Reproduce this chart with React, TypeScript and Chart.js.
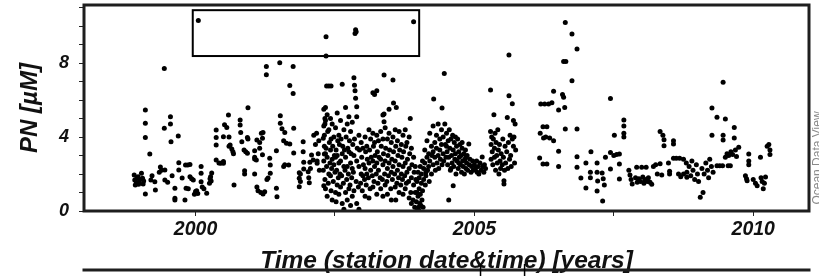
import React, { useEffect, useRef } from 'react';
import { Chart, registerables } from 'chart.js';

Chart.register(...registerables);

// ---- Data (decimal year, PN µM) ----
const p1999: number[][] = [
  [1998.90,1.95],[1998.91,1.68],[1998.92,1.41],[1998.94,1.55],[1998.95,1.8],[1998.97,1.85],[1998.98,1.45],
  [1998.99,1.53],[1999.0,1.7],[1999.03,2.04],[1999.05,1.77],[1999.06,1.46],[1999.07,1.62],[1999.1,0.92],
  [1999.1,5.46],[1999.1,4.74],[1999.1,3.98],[1999.18,3.08],[1999.2,1.68],[1999.22,1.9],[1999.27,1.58],
  [1999.28,1.14],[1999.35,2.1],[1999.37,2.38],[1999.39,2.2],[1999.44,7.71],[1999.44,4.47],[1999.45,2.22],
  [1999.45,1.68],[1999.55,5.1],[1999.55,4.7],[1999.56,3.75],[1999.69,4.05],[1999.63,1.23],[1999.63,0.69],
  [1999.63,0.59],[1999.7,2.61],[1999.7,2.22],[1999.82,2.49],[1999.86,2.49],[1999.9,2.52],[1999.81,0.59],
  [1999.83,1.23],[1999.9,1.85],[1999.93,1.75],[1999.96,1.68],[1999.98,0.9],[2000.0,1.05],[2000.02,1.1],
  [2000.04,0.95],[2000.05,10.3],[1999.58,1.9],[1999.5,1.55],[1999.76,1.78],[1999.87,1.2],
];
const p2000: number[][] = [
  [2000.1,2.4],[2000.1,2.04],[2000.1,1.58],[2000.12,1.3],[2000.2,0.96],[2000.15,1.2],[2000.25,1.5],
  [2000.26,1.75],[2000.27,1.85],[2000.29,2.05],[2000.28,1.62],[2000.37,4.38],[2000.37,3.98],[2000.37,3.57],
  [2000.37,2.76],[2000.42,2.6],[2000.45,2.58],[2000.5,2.58],[2000.5,2.68],[2000.5,4.02],[2000.52,4.67],
  [2000.56,4.52],[2000.59,5.19],[2000.6,4.0],[2000.6,3.5],[2000.62,3.57],[2000.65,3.35],[2000.67,3.2],
  [2000.68,3.1],[2000.69,1.41],[2000.8,4.92],[2000.8,4.65],[2000.81,4.25],[2000.83,3.75],[2000.88,2.18],
  [2000.88,2.0],[2000.87,3.3],[2000.9,3.2],[2000.93,3.12],[2000.94,5.58],[2000.93,3.98],[2000.94,3.9],
];
const p2001: number[][] = [
  [2001.06,2.9],[2001.06,3.26],[2001.06,2.81],[2001.06,2.0],[2001.09,2.76],[2001.1,3.84],[2001.1,1.3],
  [2001.12,1.1],[2001.15,3.7],[2001.15,3.39],[2001.17,1.0],[2001.18,4.2],[2001.2,3.93],[2001.2,3.04],
  [2001.21,4.25],[2001.21,0.92],[2001.24,1.04],[2001.27,7.82],[2001.27,7.37],[2001.28,1.7],[2001.3,1.78],
  [2001.33,2.85],[2001.34,2.49],[2001.34,2.04],[2001.45,1.23],[2001.46,0.77],[2001.45,3.26],[2001.51,8.02],
  [2001.52,5.15],[2001.52,4.75],[2001.55,4.45],[2001.6,4.25],[2001.58,3.8],[2001.58,2.4],[2001.6,2.5],
  [2001.63,3.66],[2001.67,2.49],[2001.69,6.79],[2001.69,3.62],[2001.75,7.82],[2001.75,6.36],[2001.76,4.47],
  [2001.76,3.13],[2001.86,2.07],[2001.86,1.77],[2001.86,1.31],[2001.88,2.0],[2001.88,1.6],[2001.93,3.75],
  [2001.93,3.2],[2001.94,2.63],[2001.94,2.27],
];
const p2002a: number[][] = [
  [2002.02,2.12],[2002.03,1.8],[2002.04,1.53],[2002.05,2.63],[2002.06,2.3],[2002.08,3.03],[2002.11,2.76],
  [2002.12,4.1],[2002.15,3.6],[2002.17,4.2],[2002.18,2.7],[2002.18,2.58],[2002.2,3.1],[2002.21,3.8],
  [2002.22,2.2],[2002.29,3.93],[2002.3,1.37],[2002.31,3.08],[2002.31,3.5],[2002.32,4.7],[2002.32,5.0],
  [2002.33,5.6],[2002.34,8.38],[2002.34,9.42],[2002.35,6.76],[2002.39,6.76],[2002.43,6.76],
];
const p2002b: number[][] = [
  [2002.30,5.5],[2002.30,4.6],[2002.31,4.1],[2002.30,2.7],[2002.29,2.2],
  [2002.33,4.9],[2002.34,3.4],[2002.33,3.1],[2002.32,1.7],[2002.33,1.2],
  [2002.36,5.2],[2002.37,4.3],[2002.36,2.9],[2002.35,2.4],[2002.36,0.8],
  [2002.39,4.4],[2002.40,3.7],[2002.39,2.0],[2002.38,1.5],
  [2002.42,5.0],[2002.43,3.9],[2002.42,3.3],[2002.41,2.6],[2002.42,1.9],[2002.43,1.1],
  [2002.45,4.7],[2002.46,3.5],[2002.45,2.8],[2002.44,2.3],[2002.45,0.6],
  [2002.48,4.0],[2002.49,3.0],[2002.48,2.5],[2002.47,1.6],
  [2002.51,4.5],[2002.52,3.3],[2002.51,2.9],[2002.50,2.1],[2002.51,1.0],[2002.52,0.5],
  [2002.54,5.3],[2002.55,3.8],[2002.54,3.0],[2002.53,2.2],[2002.54,1.4],
  [2002.57,4.1],[2002.58,3.6],[2002.57,2.6],[2002.56,1.8],[2002.57,0.9],
  [2002.60,4.9],[2002.61,3.9],[2002.60,2.7],[2002.59,2.0],[2002.60,1.3],
  [2002.63,6.86],[2002.64,3.5],[2002.63,3.1],[2002.62,1.9],[2002.63,0.4],
  [2002.66,4.4],[2002.67,3.3],[2002.66,2.4],[2002.65,1.5],[2002.66,0.1],
  [2002.69,5.6],[2002.70,4.0],[2002.69,2.9],[2002.68,2.2],[2002.69,1.0],
  [2002.72,4.7],[2002.73,3.4],[2002.72,2.4],[2002.71,1.7],[2002.72,0.6],
  [2002.75,5.1],[2002.76,3.8],[2002.75,3.2],[2002.74,2.0],[2002.75,1.2],
  [2002.78,4.3],[2002.79,3.1],[2002.78,2.6],[2002.77,1.4],[2002.78,0.3],
  [2002.81,4.8],[2002.82,3.6],[2002.81,2.3],[2002.80,1.8],[2002.81,0.8],
  [2002.84,7.2],[2002.85,3.9],[2002.84,3.0],[2002.83,2.1],[2002.84,1.1],
  [2002.85,6.8],[2002.86,6.5],[2002.86,9.6],[2002.87,6.1],[2002.87,9.8],[2002.88,9.7],
  [2002.89,5.64],[2002.89,5.1],[2002.90,3.4],[2002.89,2.7],[2002.88,1.6],[2002.89,0.4],
  [2002.93,4.1],[2002.94,3.3],[2002.93,2.4],[2002.92,1.3],[2002.93,0.1],
  [2002.97,3.7],[2002.98,2.9],[2002.97,2.0],[2002.96,1.5],
];
const p2003: number[][] = [
  [2003.00,3.4],[2003.01,2.5],[2003.00,1.9],[2002.99,1.1],
  [2003.04,4.0],[2003.05,3.2],[2003.04,2.3],[2003.03,1.7],[2003.04,0.8],
  [2003.07,3.5],[2003.08,2.8],[2003.07,2.0],[2003.06,1.4],
  [2003.11,4.4],[2003.12,3.3],[2003.11,2.6],[2003.10,1.8],[2003.11,0.7],
  [2003.14,3.9],[2003.15,2.9],[2003.14,2.2],[2003.13,1.2],
  [2003.18,6.4],[2003.18,4.2],[2003.19,3.5],[2003.18,2.7],[2003.17,1.9],[2003.18,1.3],
  [2003.21,6.3],[2003.21,3.7],[2003.22,3.0],[2003.21,2.4],[2003.20,1.6],
  [2003.25,6.5],[2003.25,4.1],[2003.26,3.2],[2003.25,2.6],[2003.24,2.0],[2003.25,0.9],
  [2003.28,3.8],[2003.29,2.9],[2003.28,2.2],[2003.27,1.5],
  [2003.32,4.3],[2003.33,3.5],[2003.32,2.8],[2003.31,1.8],[2003.32,1.2],
  [2003.36,5.19],[2003.36,3.9],[2003.37,3.1],[2003.36,2.5],[2003.35,1.7],[2003.36,0.8],
  [2003.38,7.35],[2003.38,5.24],[2003.38,4.83],
  [2003.40,4.5],[2003.41,3.4],[2003.40,2.7],[2003.39,2.0],[2003.40,1.4],
  [2003.44,3.9],[2003.45,3.0],[2003.44,2.3],[2003.43,1.6],[2003.44,0.9],
  [2003.47,5.5],[2003.47,4.2],[2003.48,3.3],[2003.47,2.6],[2003.46,1.9],
  [2003.51,3.7],[2003.52,2.8],[2003.51,2.1],[2003.50,1.2],[2003.51,0.6],
  [2003.54,7.08],[2003.54,4.0],[2003.55,3.2],[2003.54,2.4],[2003.53,1.7],
  [2003.55,5.84],
  [2003.58,4.4],[2003.59,3.5],[2003.58,2.7],[2003.57,2.0],[2003.58,1.3],[2003.59,0.6],
  [2003.60,5.6],
  [2003.62,3.8],[2003.63,3.0],[2003.62,2.2],[2003.61,1.5],
  [2003.65,4.3],[2003.66,3.3],[2003.65,2.5],[2003.64,1.8],[2003.65,1.0],
  [2003.69,3.6],[2003.70,2.9],[2003.69,2.0],[2003.68,1.4],
  [2003.72,4.1],[2003.73,3.2],[2003.72,2.4],[2003.71,1.7],[2003.72,0.9],
  [2003.76,4.4],[2003.77,3.5],[2003.76,2.6],[2003.75,1.9],[2003.76,1.2],
  [2003.79,3.7],[2003.80,2.8],[2003.79,2.1],[2003.78,1.5],
  [2003.83,4.0],[2003.84,3.1],[2003.83,2.3],[2003.82,1.6],[2003.83,0.7],
  [2003.85,5.0],
  [2003.87,3.4],[2003.88,2.5],[2003.87,1.8],[2003.86,1.0],[2003.87,0.4],
  [2003.91,10.23],[2003.91,2.9],[2003.92,2.1],[2003.91,1.4],[2003.90,0.6],
  [2003.94,2.4],[2003.95,1.7],[2003.94,1.0],[2003.93,0.2],
];
const p2004a: number[][] = [
  [2003.97,1.6],[2003.97,1.0],[2003.96,0.5],[2003.97,0.0],
  [2003.99,2.1],[2003.99,0.8],[2004.00,0.2],
  [2004.01,1.8],[2004.01,1.2],[2004.02,0.4],[2004.01,0.0],
  [2004.03,2.4],[2004.03,0.9],[2004.04,0.3],
  [2004.05,2.0],[2004.05,1.5],[2004.06,0.6],
  [2004.07,2.7],[2004.07,1.1],[2004.08,0.2],
  [2004.09,2.3],[2004.09,1.7],
  [2004.11,3.3],[2004.11,2.6],[2004.12,1.4],
  [2004.13,2.1],[2004.13,1.9],
  [2004.15,3.8],[2004.15,2.9],[2004.16,2.2],
  [2004.18,3.1],[2004.18,2.4],[2004.19,1.6],
  [2004.20,4.2],[2004.20,2.7],
  [2004.23,3.5],[2004.23,2.0],[2004.24,3.0],
  [2004.26,4.6],[2004.26,3.2],[2004.26,2.5],
  [2004.27,6.05],
  [2004.29,3.7],[2004.29,2.9],[2004.30,2.2],
  [2004.32,4.1],[2004.32,3.4],[2004.33,2.6],
  [2004.35,4.7],[2004.35,3.0],[2004.36,2.3],
  [2004.38,3.9],[2004.38,3.3],[2004.39,2.8],
  [2004.41,4.4],[2004.41,3.6],[2004.42,2.5],
  [2004.42,5.57],
  [2004.44,4.0],[2004.44,3.1],[2004.45,2.7],
];
const p2004b: number[][] = [
  [2004.46,7.44],[2004.47,4.7],[2004.48,3.6],[2004.49,2.9],[2004.5,4.2],[2004.51,3.2],[2004.52,2.5],
  [2004.53,3.8],[2004.54,0.59],[2004.54,2.9],[2004.55,4.4],[2004.56,3.4],[2004.57,2.2],[2004.58,3.9],
  [2004.59,3.0],[2004.6,2.6],[2004.61,4.1],[2004.62,1.37],[2004.62,3.3],[2004.63,2.4],[2004.64,3.7],
  [2004.65,2.8],[2004.66,3.1],[2004.67,2.0],[2004.68,3.5],[2004.69,2.7],[2004.7,3.9],[2004.71,2.3],
  [2004.72,3.2],[2004.73,2.9],[2004.74,3.6],[2004.75,2.5],[2004.76,3.0],[2004.77,2.1],[2004.78,3.4],
  [2004.79,2.7],[2004.8,2.4],[2004.81,3.1],[2004.82,2.0],[2004.83,2.8],[2004.84,3.3],[2004.85,2.3],
  [2004.86,2.6],[2004.87,3.0],[2004.88,2.2],[2004.9,3.62],[2004.91,2.5],[2004.92,2.8],[2004.94,2.1],
  [2004.95,2.4],[2004.97,2.7],[2004.98,2.2],[2004.5,3.5],[2004.58,2.3],[2004.66,4.0],[2004.72,2.6],
  [2004.78,3.7],[2004.85,2.9],
];
const p2005: number[][] = [
  [2005.0,2.5],[2005.02,2.3],[2005.04,2.7],[2005.05,2.1],[2005.07,2.4],[2005.08,2.0],[2005.1,2.6],
  [2005.12,2.2],[2005.14,2.92],[2005.15,2.4],[2005.17,2.1],[2005.18,2.5],[2005.2,2.3],
  [2005.29,6.54],[2005.29,4.3],[2005.3,3.6],[2005.3,2.8],[2005.31,4.0],[2005.32,3.2],[2005.33,2.5],
  [2005.34,3.9],[2005.35,5.2],[2005.36,3.4],[2005.36,2.9],[2005.37,4.2],[2005.38,2.2],[2005.39,3.7],
  [2005.4,3.0],[2005.41,2.6],[2005.42,4.4],[2005.43,3.3],[2005.44,2.0],[2005.45,3.6],[2005.46,2.7],
  [2005.47,2.3],[2005.48,3.1],[2005.5,2.5],[2005.51,3.9],[2005.52,2.9],[2005.53,1.64],[2005.53,1.46],
  [2005.54,2.2],[2005.55,3.5],[2005.56,2.6],[2005.58,3.2],[2005.59,5.06],[2005.6,2.3],[2005.61,3.7],
  [2005.62,8.43],[2005.62,6.23],[2005.63,2.8],[2005.64,4.1],[2005.65,3.0],[2005.66,2.4],[2005.68,5.8],
  [2005.68,3.9],[2005.7,4.9],[2005.7,3.5],[2005.71,4.0],[2005.72,2.6],[2005.73,4.7],[2005.74,3.3],
];
const p2006: number[][] = [
  [2006.17,2.86],[2006.18,4.2],[2006.19,5.78],[2006.23,4.56],[2006.24,3.95],[2006.23,2.54],[2006.26,5.78],
  [2006.28,4.0],[2006.3,4.56],[2006.3,2.54],[2006.33,5.78],[2006.35,3.95],[2006.39,5.85],[2006.42,6.47],
  [2006.42,3.8],[2006.51,5.46],[2006.51,3.23],[2006.51,2.41],[2006.58,6.3],[2006.6,6.15],[2006.6,8.09],
  [2006.64,8.09],[2006.63,10.2],[2006.62,5.6],[2006.63,4.43],[2006.75,9.57],[2006.84,8.76],[2006.75,7.05],
  [2006.84,4.43],[2006.84,2.94],[2006.84,2.36],[2006.91,1.78],
];
const p2007: number[][] = [
  [2007.0,2.59],[2007.0,1.24],[2007.08,2.1],[2007.08,1.8],[2007.09,3.2],[2007.2,2.6],[2007.2,2.1],
  [2007.21,1.62],[2007.2,1.08],[2007.29,2.05],[2007.31,1.75],[2007.33,1.4],[2007.3,0.54],[2007.35,2.9],
  [2007.44,6.09],[2007.44,3.17],[2007.44,2.27],[2007.5,3.0],[2007.51,4.1],[2007.55,3.05],[2007.6,3.08],
  [2007.6,2.54],[2007.6,1.73],[2007.68,4.92],[2007.68,4.6],[2007.68,4.2],[2007.68,4.0],[2007.77,2.2],
  [2007.79,1.95],[2007.81,1.7],[2007.83,1.46],[2007.91,2.36],[2007.89,1.8],[2007.92,1.55],[2007.95,1.75],
  [2007.98,1.6],
];
const p2008: number[][] = [
  [2008.0,2.36],[2008.02,1.84],[2008.04,1.5],[2008.06,1.7],[2008.08,2.36],[2008.1,1.6],[2008.12,1.8],
  [2008.15,1.55],[2008.18,1.45],[2008.21,2.4],[2008.25,2.5],[2008.28,2.0],[2008.33,2.55],[2008.33,4.3],
  [2008.36,1.95],[2008.38,4.1],[2008.4,3.85],[2008.4,3.53],[2008.48,2.6],[2008.5,2.15],[2008.5,2.0],
  [2008.57,3.8],[2008.57,3.62],[2008.57,2.85],[2008.62,2.85],[2008.66,2.0],[2008.68,2.85],[2008.7,1.85],
  [2008.75,2.8],[2008.75,2.0],[2008.8,2.6],[2008.81,2.09],[2008.81,1.82],[2008.85,2.4],[2008.88,1.9],
  [2008.9,2.7],[2008.92,2.2],[2008.95,1.7],[2008.98,2.5],[2009.0,2.0],[2009.02,1.6],[2009.05,0.74],
  [2009.08,2.3],[2009.1,1.0],[2009.12,2.0],[2009.15,2.6],[2009.18,2.2],[2009.2,1.8],[2009.22,2.8],
  [2009.25,2.4],[2009.28,2.1],
];
const p2009: number[][] = [
  [2009.26,5.57],[2009.26,4.1],[2009.35,5.07],[2009.35,2.45],[2009.4,2.45],[2009.46,6.96],[2009.46,4.1],
  [2009.46,3.84],[2009.5,4.97],[2009.45,2.45],[2009.5,2.9],[2009.53,3.1],[2009.55,2.45],[2009.56,3.0],
  [2009.6,3.2],[2009.59,2.45],[2009.63,3.05],[2009.66,4.52],[2009.66,3.95],[2009.68,3.3],[2009.7,2.95],
  [2009.74,3.45],[2009.86,1.9],[2009.88,1.75],[2009.89,1.64],[2009.92,3.08],[2009.92,2.7],[2009.92,2.5],
  [2010.0,1.7],[2010.04,1.5],[2010.07,1.37],[2010.13,2.9],[2010.14,1.8],[2010.16,1.6],[2010.18,1.2],
  [2010.2,1.5],[2010.22,1.84],[2010.25,3.5],[2010.28,3.6],[2010.3,3.3],[2010.3,3.05],
];

// axis settings
const X_MIN = 1998;
const X_MAX = 2011;
const Y_MIN = 0;
const Y_MAX = 11.14;
const X_LABELED = [2000, 2005, 2010];
const Y_LABELED = [0, 4, 8];

// inset rectangle (data coordinates)
const INSET = { x0: 1999.95, x1: 2004.01, y0: 8.38, y1: 10.86 };
// top of the next panel (its small box edges, in data x)
const NEXT_BOX = { x0: 2005.11, x1: 2005.9 };

const FONT = '"Liberation Sans", Arial, Helvetica, sans-serif';

const decorations = {
  id: 'decorations',
  afterDraw(chart: any) {
    const { ctx, chartArea: a, scales } = chart;
    const xs = scales.x;
    const ys = scales.y;
    ctx.save();
    ctx.strokeStyle = '#1e1e1e';
    ctx.lineWidth = 3;
    ctx.strokeRect(a.left, a.top, a.right - a.left, a.bottom - a.top);
    ctx.strokeStyle = '#000';
    ctx.lineWidth = 2;
    const ix0 = xs.getPixelForValue(INSET.x0);
    const ix1 = xs.getPixelForValue(INSET.x1);
    const iy0 = ys.getPixelForValue(INSET.y1);
    const iy1 = ys.getPixelForValue(INSET.y0);
    ctx.strokeRect(ix0, iy0, ix1 - ix0, iy1 - iy0);
    ctx.strokeStyle = '#1e1e1e';
    ctx.lineWidth = 3;
    ctx.beginPath();
    ctx.moveTo(a.left - 1.5, 270);
    ctx.lineTo(a.right + 1.5, 270);
    ctx.stroke();
    ctx.lineWidth = 1.5;
    ctx.strokeStyle = '#000';
    [NEXT_BOX.x0, NEXT_BOX.x1].forEach((v) => {
      const px = xs.getPixelForValue(v);
      ctx.beginPath();
      ctx.moveTo(px, 264);
      ctx.lineTo(px, 276);
      ctx.stroke();
    });
    ctx.translate(818, 158);
    ctx.rotate(-Math.PI / 2);
    ctx.fillStyle = '#8a8a8a';
    ctx.font = '12px ' + FONT;
    ctx.textAlign = 'center';
    ctx.textBaseline = 'middle';
    ctx.fillText('Ocean Data View', 0, 0);
    ctx.restore();
  },
};

export default function App() {
  const ref = useRef<HTMLCanvasElement | null>(null);
  useEffect(() => {
    if (!ref.current) return;
    const all = [
      ...p1999, ...p2000, ...p2001, ...p2002a, ...p2002b, ...p2003,
      ...p2004a, ...p2004b, ...p2005, ...p2006, ...p2007, ...p2008, ...p2009,
    ].map(([x, y]) => ({ x, y }));
    const chart = new Chart(ref.current, {
      type: 'scatter',
      data: {
        datasets: [
          {
            data: all,
            pointRadius: 2.5,
            pointBackgroundColor: '#000',
            pointBorderWidth: 0,
            pointHoverRadius: 2.5,
          },
        ],
      },
      options: {
        responsive: false,
        animation: false,
        events: [],
        layout: { padding: { left: 0, top: 5, right: 10, bottom: 0 } },
        plugins: { legend: { display: false }, tooltip: { enabled: false } },
        scales: {
          x: {
            type: 'linear',
            min: X_MIN,
            max: X_MAX,
            afterFit: (s: any) => { s.height = 65; s.paddingLeft = 0; s.paddingRight = 0; },
            border: { display: false },
            grid: { drawOnChartArea: false, drawTicks: true, tickLength: 5, color: '#222', lineWidth: 1 },
            ticks: {
              stepSize: 2.5,
              includeBounds: false,
              autoSkip: false,
              maxRotation: 0,
              padding: 2,
              color: '#111',
              font: { family: FONT, size: 19.5, style: 'italic', weight: 'bold' },
              callback: (v: any) => (X_LABELED.includes(Number(v)) ? String(v) : ''),
            },
            title: {
              display: true,
              text: 'Time (station date&time) [years]',
              color: '#111',
              padding: { top: 0, bottom: 0 },
              font: { family: FONT, size: 24.5, style: 'italic', weight: 'bold' },
            },
          },
          y: {
            type: 'linear',
            min: Y_MIN,
            max: Y_MAX,
            afterFit: (s: any) => { s.width = 84; s.paddingTop = 0; s.paddingBottom = 0; },
            border: { display: false },
            grid: { drawOnChartArea: false, drawTicks: true, tickLength: 5, color: '#222', lineWidth: 1 },
            ticks: {
              stepSize: 1,
              includeBounds: false,
              autoSkip: false,
              padding: 10,
              color: '#111',
              font: { family: FONT, size: 18, style: 'italic', weight: 'bold' },
              callback: (v: any) => (Y_LABELED.includes(Number(v)) ? String(v) : ''),
            },
            title: {
              display: true,
              text: 'PN [µM]',
              color: '#111',
              padding: { top: 16, bottom: 0 },
              font: { family: FONT, size: 24, style: 'italic', weight: 'bold' },
            },
          },
        },
      },
      plugins: [decorations],
    });
    return () => chart.destroy();
  }, []);
  return (
    <div style={{ position: 'fixed', left: 0, top: 0, width: 819, height: 276, background: '#fff' }}>
      <canvas ref={ref} width={819} height={276} style={{ display: 'block', width: 819, height: 276 }} />
    </div>
  );
}
